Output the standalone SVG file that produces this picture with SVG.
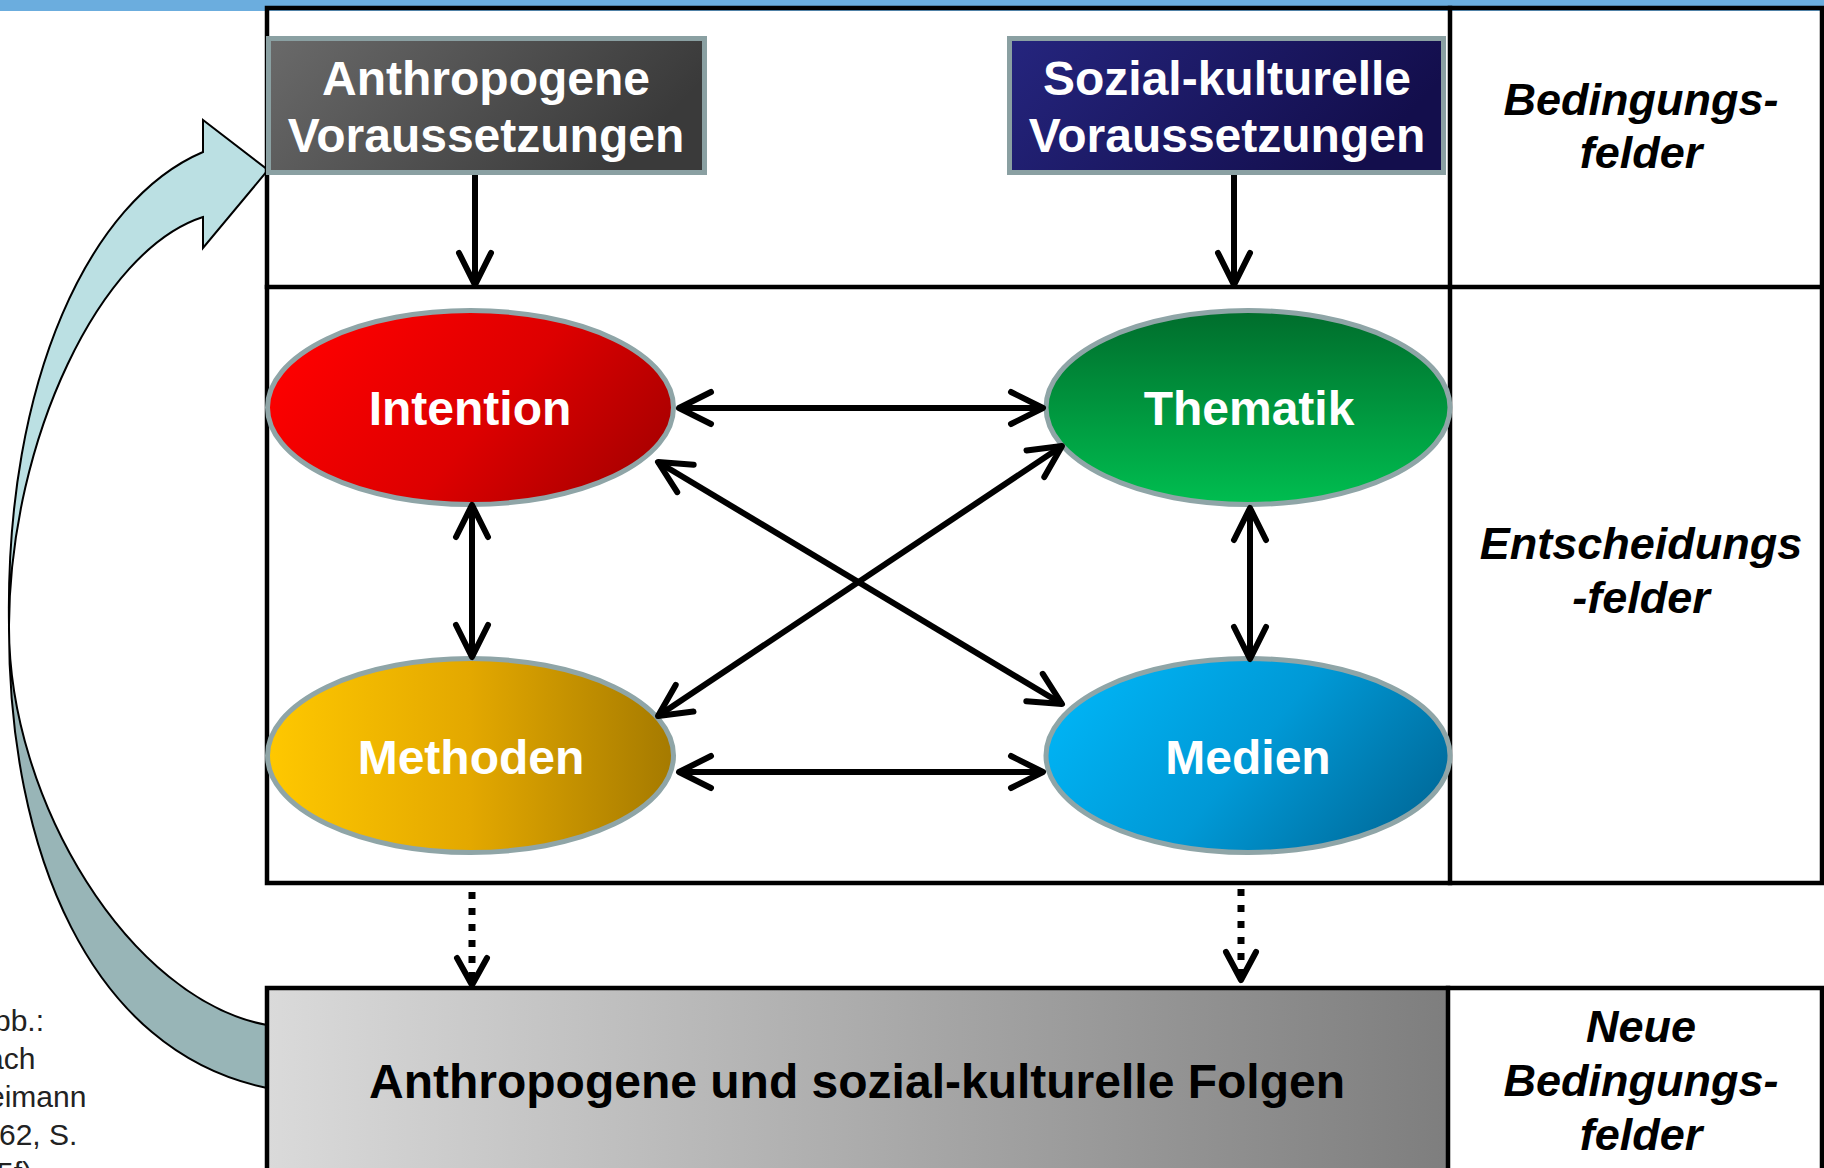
<svg xmlns="http://www.w3.org/2000/svg" width="1824" height="1168" viewBox="0 0 1824 1168">
<style>
.frame{stroke:#000;stroke-width:4.5;fill:none;stroke-linecap:square}
.box{stroke:#8aa0a2;stroke-width:5}
.ell{stroke:#8fa5a7;stroke-width:5}
.lbl{font-family:"Liberation Sans",Arial,sans-serif;font-weight:bold;fill:#fff;text-anchor:middle}
.side{font-family:"Liberation Sans",Arial,sans-serif;font-weight:bold;font-style:italic;fill:#000;text-anchor:middle;font-size:45px}
.con{stroke:#000;stroke-width:6;fill:none}
.dash{stroke:#000;stroke-width:7;fill:none;stroke-dasharray:7 9}
.head{stroke:#000;stroke-width:6;fill:none;stroke-linecap:round;stroke-linejoin:round}
.src{font-family:"Liberation Sans",Arial,sans-serif;font-size:30px;fill:#222}
.curve{stroke:#000;stroke-width:2;stroke-linejoin:miter}
</style>
<defs>
<marker id="ah" markerUnits="userSpaceOnUse" viewBox="-40 -20 44 40" refX="0" refY="0" markerWidth="44" markerHeight="40" orient="auto-start-reverse" overflow="visible">
<path d="M-32,-16 L0,0 L-32,16" fill="none" stroke="#000" stroke-width="6" stroke-linecap="round" stroke-linejoin="round"/>
</marker>
<linearGradient id="gAnth" x1="0" y1="0" x2="1" y2="0.3"><stop offset="0" stop-color="#6a6a6a"/><stop offset="1" stop-color="#3a3a3a"/></linearGradient>
<linearGradient id="gSoz" x1="0" y1="0" x2="1" y2="0.3"><stop offset="0" stop-color="#25257e"/><stop offset="1" stop-color="#130e4c"/></linearGradient>
<linearGradient id="gInt" x1="0" y1="0.3" x2="1" y2="0.7"><stop offset="0" stop-color="#ff0000"/><stop offset="0.55" stop-color="#dd0000"/><stop offset="1" stop-color="#a80000"/></linearGradient>
<linearGradient id="gThe" x1="0" y1="0" x2="0" y2="1"><stop offset="0" stop-color="#006d2c"/><stop offset="1" stop-color="#00be50"/></linearGradient>
<linearGradient id="gMet" x1="0" y1="0" x2="1" y2="0"><stop offset="0" stop-color="#ffc800"/><stop offset="0.5" stop-color="#e3a800"/><stop offset="1" stop-color="#a57a00"/></linearGradient>
<linearGradient id="gMed" x1="0" y1="0.3" x2="1" y2="0.7"><stop offset="0" stop-color="#00b4f5"/><stop offset="0.5" stop-color="#0099d6"/><stop offset="1" stop-color="#006a9a"/></linearGradient>
<linearGradient id="gFol" x1="0" y1="0" x2="1" y2="0"><stop offset="0" stop-color="#dadada"/><stop offset="1" stop-color="#7e7e7e"/></linearGradient>
</defs>

<rect x="0" y="0" width="1824" height="1168" fill="#fff"/>
<rect x="0" y="0" width="1824" height="11" fill="#6badde"/>

<g id="feedback-arrow">
<path class="curve" fill="#98b5b7" d="M9,625 C8,850 90,1052 267,1088 L267,1025 C130,1000 8,800 9,625 Z"/>
<path class="curve" fill="#bbe0e3" d="M203,152 L203,120 L268,170 L203,248 L203,217 C100,250 10,440 9,625 C5,380 90,200 203,152 Z"/>
</g>

<g id="source-note">
<text class="src" x="-6" y="1031">bb.:</text>
<text class="src" x="-13" y="1069">ach</text>
<text class="src" x="-12" y="1107">eimann</text>
<text class="src" x="-1" y="1145">62, S.</text>
<text class="src" x="-3" y="1183">5f)</text>
</g>

<g id="folgen">
<rect x="267" y="988" width="1181" height="185" fill="url(#gFol)"/>
<text class="lbl" x="857" y="1098" font-size="48" style="fill:#000">Anthropogene und sozial-kulturelle Folgen</text>
</g>

<g id="frame">
<path class="frame" d="M267,8 H1822 V883 H267 Z"/>
<path class="frame" d="M267,287 H1822"/>
<path class="frame" d="M1450,8 V883"/>
<path class="frame" d="M267,1172 V988 H1822 V1172"/>
<path class="frame" d="M1448,988 V1172"/>
</g>

<g id="label-bedingungsfelder">
<text class="side" x="1641" y="115">Bedingungs-</text>
<text class="side" x="1641" y="168">felder</text>
</g>
<g id="label-entscheidungsfelder">
<text class="side" x="1641" y="559">Entscheidungs</text>
<text class="side" x="1641" y="613">-felder</text>
</g>
<g id="label-neue-bedingungsfelder">
<text class="side" x="1641" y="1042">Neue</text>
<text class="side" x="1641" y="1096">Bedingungs-</text>
<text class="side" x="1641" y="1150">felder</text>
</g>

<g id="anthropogene">
<rect class="box" x="268.5" y="38.5" width="436" height="134" fill="url(#gAnth)"/>
<text class="lbl" x="486" y="95" font-size="48">Anthropogene</text>
<text class="lbl" x="486" y="152" font-size="48">Voraussetzungen</text>
</g>

<g id="sozial">
<rect class="box" x="1009.5" y="38.5" width="434" height="134" fill="url(#gSoz)"/>
<text class="lbl" x="1227" y="95" font-size="48">Sozial-kulturelle</text>
<text class="lbl" x="1227" y="152" font-size="48">Voraussetzungen</text>
</g>

<g id="intention">
<ellipse class="ell" cx="470.5" cy="407.5" rx="203" ry="97" fill="url(#gInt)"/>
<text class="lbl" x="470" y="425" font-size="48">Intention</text>
</g>
<g id="thematik">
<ellipse class="ell" cx="1248" cy="407.5" rx="202" ry="97" fill="url(#gThe)"/>
<text class="lbl" x="1249" y="425" font-size="48">Thematik</text>
</g>
<g id="methoden">
<ellipse class="ell" cx="470.5" cy="755.5" rx="203" ry="97" fill="url(#gMet)"/>
<text class="lbl" x="471" y="774" font-size="48">Methoden</text>
</g>
<g id="medien">
<ellipse class="ell" cx="1248" cy="755.5" rx="202" ry="97" fill="url(#gMed)"/>
<text class="lbl" x="1248" y="774" font-size="48">Medien</text>
</g>

<g id="connectors">
<line class="con" x1="475" y1="175" x2="475" y2="285" marker-end="url(#ah)"/>
<line class="con" x1="1234" y1="175" x2="1234" y2="285" marker-end="url(#ah)"/>
<line class="con" x1="679" y1="408" x2="1043" y2="408" marker-start="url(#ah)" marker-end="url(#ah)"/>
<line class="con" x1="679" y1="772" x2="1043" y2="772" marker-start="url(#ah)" marker-end="url(#ah)"/>
<line class="con" x1="472" y1="505" x2="472" y2="657" marker-start="url(#ah)" marker-end="url(#ah)"/>
<line class="con" x1="1250" y1="508" x2="1250" y2="659" marker-start="url(#ah)" marker-end="url(#ah)"/>
<line class="con" x1="658" y1="462" x2="1062" y2="704" marker-start="url(#ah)" marker-end="url(#ah)"/>
<line class="con" x1="658" y1="716" x2="1062" y2="446" marker-start="url(#ah)" marker-end="url(#ah)"/>
<line class="dash" x1="472" y1="892" x2="472" y2="982"/>
<path class="head" d="M457,958 L472,985 L487,958"/>
<line class="dash" x1="1241" y1="889" x2="1241" y2="977"/>
<path class="head" d="M1226,952 L1241,980 L1256,952"/>
</g>
</svg>
